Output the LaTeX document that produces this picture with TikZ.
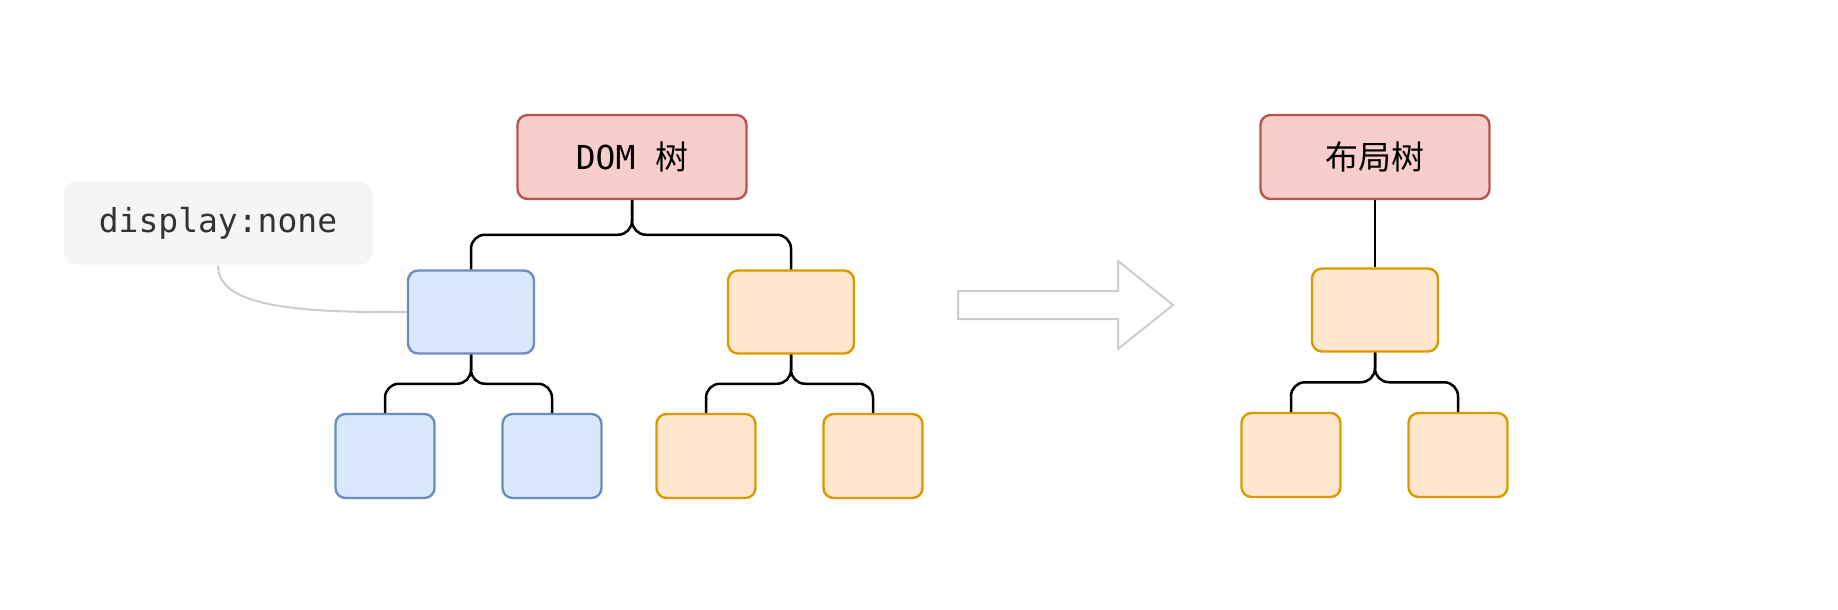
\documentclass[tikz,border=0pt]{standalone}
\usepackage{fontspec}
\setmonofont{DejaVu Sans Mono}
\newfontfamily\cjk{Noto Sans CJK SC}
\usetikzlibrary{calc}
\definecolor{rootfill}{HTML}{F8CECC}
\definecolor{rootline}{HTML}{B85450}
\definecolor{bluefill}{HTML}{DAE8FC}
\definecolor{blueline}{HTML}{6C8EBF}
\definecolor{orangefill}{HTML}{FFE6CC}
\definecolor{orangeline}{HTML}{D79B00}
\definecolor{notefill}{HTML}{F5F5F5}
\definecolor{notetext}{HTML}{333333}
\definecolor{faint}{HTML}{CCCCCC}
\begin{document}
\begin{tikzpicture}
					[x=0.5pt,y=-0.5pt,%
					  every node/.style={shape=rectangle,rounded corners=5pt,inner sep=0pt,draw,line width=1.2pt},
					  root/.style={fill=rootfill,draw=rootline,minimum width=114.5pt,minimum height=42pt},
					  gone/.style={fill=bluefill,draw=blueline},
					  kept/.style={fill=orangefill,draw=orangeline},
					  inner/.style={minimum width=63pt,minimum height=41.5pt},
					  leaf/.style={minimum width=49.5pt,minimum height=42pt},
					  note/.style={fill=notefill,draw=none,rounded corners=6pt,text=notetext,font=\ttfamily,minimum width=154.5pt,minimum height=41.5pt},
					  link/.style={line width=1.25pt,rounded corners=7pt},
					  callout/.style={draw=faint,line width=1pt}]
					\fontsize{16.5}{20}\selectfont
					\useasboundingbox (0,0) rectangle (1838,610);
					\node[root] (dom) at (632,157) {\ttfamily DOM {\cjk 树}};
					\node[gone,inner] (b1) at (471,312) {};
					\node[kept,inner] (o1) at (791,312) {};
					\node[gone,leaf] (b11) at (385,456) {};
					\node[gone,leaf] (b12) at (552,456) {};
					\node[kept,leaf] (o11) at (706,456) {};
					\node[kept,leaf] (o12) at (873,456) {};
					\node[root] (lay) at (1375,157) {\cjk 布局树};
					\node[kept,inner] (lo) at (1375,310) {};
					\node[kept,leaf] (lo1) at (1291,455) {};
					\node[kept,leaf] (lo2) at (1458,455) {};
					\node[note] (note) at (218,223) {display:none};
					\foreach \p/\c in {dom/b1,dom/o1,b1/b11,b1/b12,o1/o11,o1/o12,lay/lo,lo/lo1,lo/lo2}
					  \draw[link] (\p.south) |- ($(\p.south)!.5!(\c.north)$) -| (\c.north);
					\draw[callout] (note.south) .. controls (218,305) and (290,313) .. (b1.west);
					\draw[faint,line width=1pt] (958,291) -- (1118,291) -- (1118,261) -- (1173,305)
					  -- (1118,349) -- (1118,319) -- (958,319) -- cycle;
				\end{tikzpicture}
\end{document}
